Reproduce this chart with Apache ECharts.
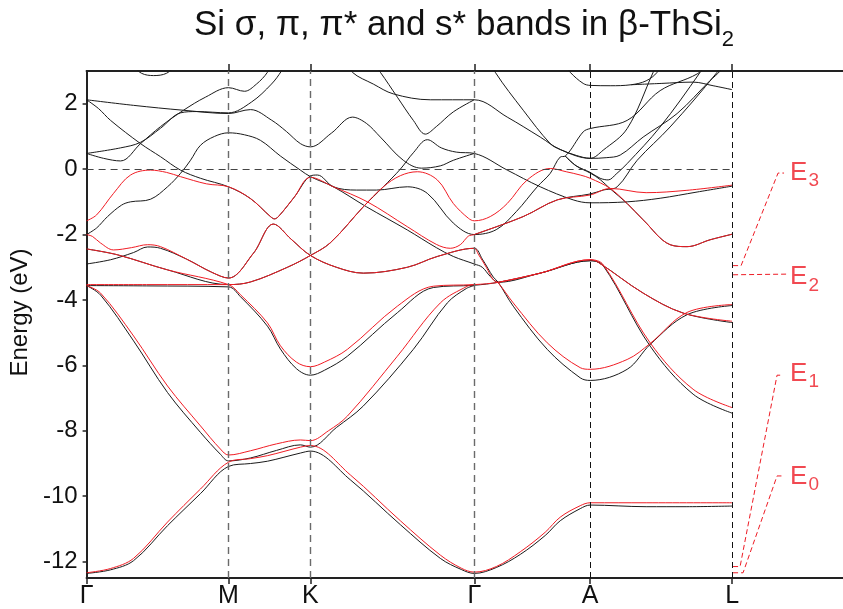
<!DOCTYPE html>
<html><head><meta charset="utf-8">
<script src="https://cdn.jsdelivr.net/npm/echarts@6/dist/echarts.min.js"></script>
<style>html,body{margin:0;padding:0;background:#fff}#c{width:843px;height:609px}</style>
</head><body><div id="c"></div>
<script>
// k-path positions (arbitrary path-length units) and labels
const kTicks = [0, 142, 224, 388, 504, 646];
const kNames = ['Γ', 'M', 'K', 'Γ', 'A', 'L'];
const kEnd = 757;
const yTicks = [2, 0, -2, -4, -6, -8, -10, -12];

// ---- black bands (full calculation): [k, E(eV)] ----
const b1 = [[0,2.12],[47,1.95],[97,1.80],[142,1.70],[164,1.82],[185,1.5],[200,1.15],[214,0.78],[224,0.68],[245,1.1],[266,1.59],[280,1.4],[294,0.98],[317,0.27],[335,0.03],[354,0.1],[367,0.27],[388,0.48]];
const b2 = [[0,2.12],[12,1.85],[24,1.49],[54,0.78],[74,0.38],[94,-0.03],[114,-0.28],[142,-0.54],[164,-0.9],[184,-1.45],[188,-1.52],[192,-1.45],[208,-0.85],[224,-0.21],[231,-0.18],[247,-0.54],[270,-0.64],[290,-0.64],[321,-0.54],[341,-0.74],[367,-1.65],[388,-2.0],[410,-1.85],[430,-1.3],[451,-0.54],[464,-0.13],[474,0.37],[479,0.4],[497,1.14],[504,1.24],[541,1.49],[574,2.4],[611,2.91],[625,3.3]];
const b3 = [[0,0.48],[17,0.33],[34,0.25],[54,0.78],[74,1.3],[97,1.80],[119,2.2],[142,2.49],[158,2.38],[170,2.6],[181,2.96],[186,3.3]];
const b4 = [[0,0.48],[34,0.65],[54,0.82],[74,1.25],[94,1.72],[110,1.76],[142,1.72],[165,2.05],[185,2.6],[195,3.0],[200,3.3]];
const b5 = [[0,-2.0],[10,-1.8],[21,-1.45],[35,-1.1],[44,-1.0],[64,-0.92],[81,-0.54],[94,-0.13],[104,0.27],[114,0.73],[128,1.0],[142,1.11],[158,1.05],[174,0.88],[194,0.4],[214,-0.03],[224,-0.23],[247,-0.54],[280,-1.15],[321,-1.86],[350,-2.4],[367,-2.67],[388,-2.9],[396,-3.0],[404,-3.28],[412,-3.46],[454,-3.18],[504,-2.8],[517,-2.95],[564,-5.41],[607,-6.88],[646,-7.46]];
const bg1 = [[0,-2.9],[24,-2.77],[47,-2.55],[61,-2.38],[74,-2.42],[100,-2.75],[125,-3.15],[142,-3.33],[167,-2.57],[187,-1.68],[205,-2.15],[224,-2.64],[250,-3.0],[277,-3.18],[321,-3.0],[351,-2.67],[388,-2.42],[396,-2.75],[407,-3.3],[412,-3.46],[427,-4.19],[461,-5.51],[494,-6.38],[504,-6.46],[541,-6.12],[564,-5.36],[601,-4.45],[646,-4.17]];
const bg2 = [[0,-2.44],[31,-2.62],[81,-3.08],[142,-3.53],[164,-3.45],[201,-3.0],[224,-2.64],[244,-2.25],[277,-1.15],[297,-0.54],[314,0.0],[327,0.5],[341,0.9],[355,0.65],[370,0.52],[388,0.48],[421,-0.03],[454,-0.54],[487,-0.94],[504,-1.03],[541,-1.0],[574,-0.89],[611,-0.7],[646,-0.52]];
const bFlat = [[0,-3.56],[60,-3.57],[142,-3.6],[154,-3.9],[181,-4.8],[194,-5.5],[210,-6.1],[224,-6.3],[238,-6.15],[261,-5.72],[311,-4.39],[347,-3.62],[388,-3.55],[412,-3.46],[454,-3.18],[504,-2.8],[512,-2.85],[557,-3.79],[597,-4.4],[646,-4.69]];
const bSteep = [[0,-3.56],[14,-3.85],[47,-5.25],[81,-6.83],[114,-8.05],[134,-8.72],[142,-8.92],[164,-8.83],[190,-8.6],[214,-8.43],[224,-8.5],[250,-7.9],[277,-7.24],[327,-5.51],[361,-4.09],[380,-3.65],[388,-3.56]];
const bBot = [[0,-12.36],[24,-12.25],[47,-11.97],[81,-10.9],[114,-9.92],[142,-9.09],[164,-9.0],[181,-8.93],[214,-8.68],[224,-8.62],[264,-9.5],[314,-10.87],[354,-11.9],[375,-12.24],[388,-12.36],[410,-12.18],[434,-11.78],[459,-11.2],[474,-10.75],[494,-10.38],[504,-10.27],[560,-10.32],[600,-10.32],[646,-10.3]];
const bTopDip = [[45,3.2],[55,2.93],[67,2.86],[80,2.93],[90,3.2]];
const bUp = [[285,3.3],[294,2.96],[311,2.2],[327,1.49],[339,1.07],[350,1.3],[367,1.75],[388,2.12]];
const bL1 = [[262,3.3],[266,2.96],[287,2.6],[307,2.3],[344,2.12],[388,2.12],[421,1.59],[454,0.98],[474,0.6],[504,0.33],[520,0.35],[534,0.43],[557,0.98],[591,1.7],[624,2.71],[634,3.0],[640,3.3]];
const bTd = [[405,3.3],[409,2.96],[437,1.8],[464,0.78],[474,0.6],[490,0.42],[504,0.33],[517,0.58],[541,1.24],[567,2.96],[572,3.3]];
const bTop2 = [[476,3.3],[484,2.96],[497,2.62],[504,2.56],[524,2.55],[545,2.58],[560,2.7],[571,2.96],[576,3.3]];
const bU7 = [[545,2.58],[575,2.62],[607,2.66],[627,2.55],[646,2.43]];
const bK2 = [[479,0.4],[490,0.1],[504,-0.1],[514,-0.28],[522,-0.33],[530,-0.15],[541,0.17],[574,1.29],[614,2.96],[620,3.3]];
const bDesc = [[479,0.4],[490,0.1],[504,-0.12],[514,-0.32],[524,-0.6],[541,-1.05],[557,-1.55],[584,-2.31],[601,-2.37],[624,-2.16],[646,-1.99]];
const bX = [[388,-2.0],[437,-1.45],[471,-0.94],[504,-0.76],[517,-0.64],[531,-0.54],[551,0.27],[584,1.29],[631,2.96],[637,3.3]];

// ---- red bands (Si sigma/pi/pi*/s* model) ----
const rPeak = [[0,-1.58],[10,-1.4],[27,-0.74],[44,-0.18],[64,-0.03],[80,-0.1],[94,-0.23],[120,-0.45],[142,-0.54],[164,-0.9],[184,-1.45],[188,-1.52],[192,-1.45],[208,-0.85],[224,-0.25],[247,-0.54],[281,-1.0],[321,-1.76],[350,-2.3],[364,-2.42],[374,-2.31],[382,-2.05],[388,-2.0],[437,-1.45],[471,-0.94],[504,-0.79],[524,-0.59],[560,-0.72],[600,-0.65],[646,-0.49]];
const rC3 = [[0,-3.53],[60,-3.53],[142,-3.53],[164,-3.45],[201,-3.0],[224,-2.64],[244,-2.25],[277,-1.15],[297,-0.54],[314,-0.2],[331,-0.08],[351,-0.33],[367,-1.05],[382,-1.5],[388,-1.58],[404,-1.45],[421,-1.05],[441,-0.33],[464,0.02],[480,-0.08],[494,-0.18],[504,-0.28],[524,-0.59],[541,-1.05],[557,-1.55],[584,-2.31],[601,-2.37],[624,-2.16],[646,-1.99]];
const rG1 = [[0,-2.0],[6,-2.06],[14,-2.26],[27,-2.47],[45,-2.4],[61,-2.31],[74,-2.37],[100,-2.75],[125,-3.15],[142,-3.33],[167,-2.57],[187,-1.68],[205,-2.15],[224,-2.64],[250,-3.0],[277,-3.18],[321,-3.0],[351,-2.67],[388,-2.42],[392,-2.6],[400,-3.0],[407,-3.38],[412,-3.48],[427,-4.09],[461,-5.31],[494,-6.07],[504,-6.12],[541,-5.82],[564,-5.33],[601,-4.38],[646,-4.14]];
const rG2 = [[0,-2.44],[31,-2.62],[81,-3.08],[142,-3.53],[154,-3.84],[181,-4.7],[194,-5.4],[210,-5.9],[224,-6.04],[238,-5.9],[261,-5.51],[311,-4.19],[347,-3.58],[388,-3.53],[412,-3.46],[454,-3.18],[504,-2.77],[517,-2.92],[564,-5.31],[607,-6.73],[646,-7.29]];
const rA2 = [[412,-3.46],[454,-3.18],[504,-2.77],[512,-2.85],[557,-3.79],[597,-4.4],[646,-4.65]];
const rSteep = [[0,-3.56],[14,-3.79],[47,-5.1],[81,-6.63],[114,-7.85],[134,-8.56],[142,-8.74],[164,-8.61],[190,-8.4],[214,-8.28],[224,-8.3],[242,-8.0],[261,-7.55],[311,-5.72],[354,-4.09],[381,-3.58],[388,-3.53]];
const rBot = [[0,-12.34],[24,-12.21],[47,-11.9],[81,-10.79],[114,-9.78],[142,-8.96],[164,-8.85],[181,-8.76],[214,-8.5],[224,-8.45],[264,-9.35],[314,-10.75],[354,-11.8],[375,-12.2],[388,-12.32],[410,-12.15],[434,-11.7],[459,-11.1],[474,-10.64],[494,-10.29],[504,-10.2],[560,-10.2],[646,-10.2]];

// ---- E-level annotations at L (energies) and their leader paths ----
const eNames = ['E3', 'E2', 'E1', 'E0'];
const eLeaders = [
  [[647,-2.95],[655,-2.95],[692,-0.12],[698,-0.12]],
  [[647,-3.23],[701,-3.21]],
  [[647,-12.15],[654,-12.15],[691,-6.3],[697,-6.3]],
  [[647,-12.34],[657,-12.34],[691,-9.38],[696,-9.38]]
];
const eLabelPos = [[704,-0.1],[704,-3.3],[704,-6.25],[704,-9.4]];

const blackBands = [b1,b2,b3,b4,b5,bg1,bg2,bFlat,bSteep,bBot,bTopDip,bUp,bL1,bTd,bTop2,bU7,bK2,bDesc,bX];
const redBands = [rPeak,rC3,rG1,rG2,rA2,rSteep,rBot];

const FONT = 'Liberation Sans, Arial, sans-serif';
const RED = '#ee1c25';
const series = [];

// reference lines: vertical dashed at k-points, horizontal dashed at E=0
series.push({
  type: 'line', data: [], silent: true, animation: false,
  markLine: {
    symbol: ['none','none'], silent: true, animation: false, label: {show: false},
    data: kTicks.slice(1).map((k, i) => ({
      xAxis: k,
      lineStyle: i < 3 ? {color:'#6a6a6a', width:1.4, type:[7,5]} : {color:'#111', width:1, type:[6,4]}
    })).concat([[
      {coord:[0,0], lineStyle:{color:'#444', width:1.2, type:[7,5]}},
      {coord:[kTicks[kTicks.length-1],0]}
    ]])
  }
});

blackBands.forEach(b => series.push({
  type:'line', data:b, showSymbol:false, smooth:0.35, silent:true, animation:false,
  lineStyle:{color:'#1a1a1a', width:1}
}));
redBands.forEach(b => series.push({
  type:'line', data:b, showSymbol:false, smooth:0.35, silent:true, animation:false,
  lineStyle:{color:'#f01c24', width:1}
}));
eLeaders.forEach(p => series.push({
  type:'line', data:p, showSymbol:false, silent:true, animation:false, clip:false,
  lineStyle:{color:RED, width:1, type:[5,3]}
}));
series.push({
  type:'scatter', symbolSize:0, silent:true, animation:false, clip:false,
  data: eLabelPos.map((p,i) => ({value:p, name:eNames[i]})),
  label: {
    show:true, position:'inside', align:'left', verticalAlign:'middle',
    formatter: d => '{e|E}{s|' + d.name.slice(1) + '}',
    rich: {
      e: {fontSize:26, color:RED, fontFamily:FONT, lineHeight:30, verticalAlign:'middle'},
      s: {fontSize:19, color:RED, fontFamily:FONT, lineHeight:30, verticalAlign:'bottom', padding:[0,0,-3,1]}
    }
  }
});

const chart = echarts.init(document.getElementById('c'));
chart.setOption({
  animation:false,
  backgroundColor:'#fff',
  title: {
    text: 'Si σ, π, π* and s* bands in β-ThSi{s|2}',
    left: 189, top: 3,
    textStyle: {
      fontSize:35, fontWeight:'normal', color:'#111', fontFamily:FONT,
      rich: {s:{fontSize:22, fontFamily:FONT, color:'#111', verticalAlign:'bottom', padding:[0,0,-8,0]}}
    }
  },
  grid: {left:86, right:0, top:71, bottom:30, containLabel:false},
  xAxis: [
    {
      type:'value', min:0, max:kEnd, position:'bottom',
      axisLine:{show:true, onZero:false, lineStyle:{color:'#222', width:2}},
      axisTick:{show:true, customValues:kTicks, length:6, lineStyle:{color:'#222', width:1.5}},
      axisLabel:{show:true, customValues:kTicks, formatter:v => kNames[kTicks.indexOf(v)], fontSize:25, color:'#111', fontFamily:FONT, margin:6},
      splitLine:{show:false}
    },
    {
      type:'value', min:0, max:kEnd, position:'top',
      axisLine:{show:true, onZero:false, lineStyle:{color:'#222', width:2}},
      axisTick:{show:true, customValues:kTicks.slice(1), length:7, lineStyle:{color:'#222', width:1.5}},
      axisLabel:{show:false}, splitLine:{show:false}
    }
  ],
  yAxis: {
    type:'value', min:-12.5, max:3,
    axisLine:{show:true, onZero:false, lineStyle:{color:'#222', width:2}},
    axisTick:{show:true, customValues:yTicks, length:4, lineStyle:{color:'#222', width:1.5}},
    axisLabel:{show:true, customValues:yTicks, fontSize:24, color:'#111', fontFamily:FONT, margin:9},
    splitLine:{show:false},
    name:'Energy (eV)', nameLocation:'middle', nameGap:45,
    nameTextStyle:{fontSize:24, color:'#111', fontFamily:FONT, padding:[0,0,0,24]}
  },
  series: series
});
</script>
</body></html>
